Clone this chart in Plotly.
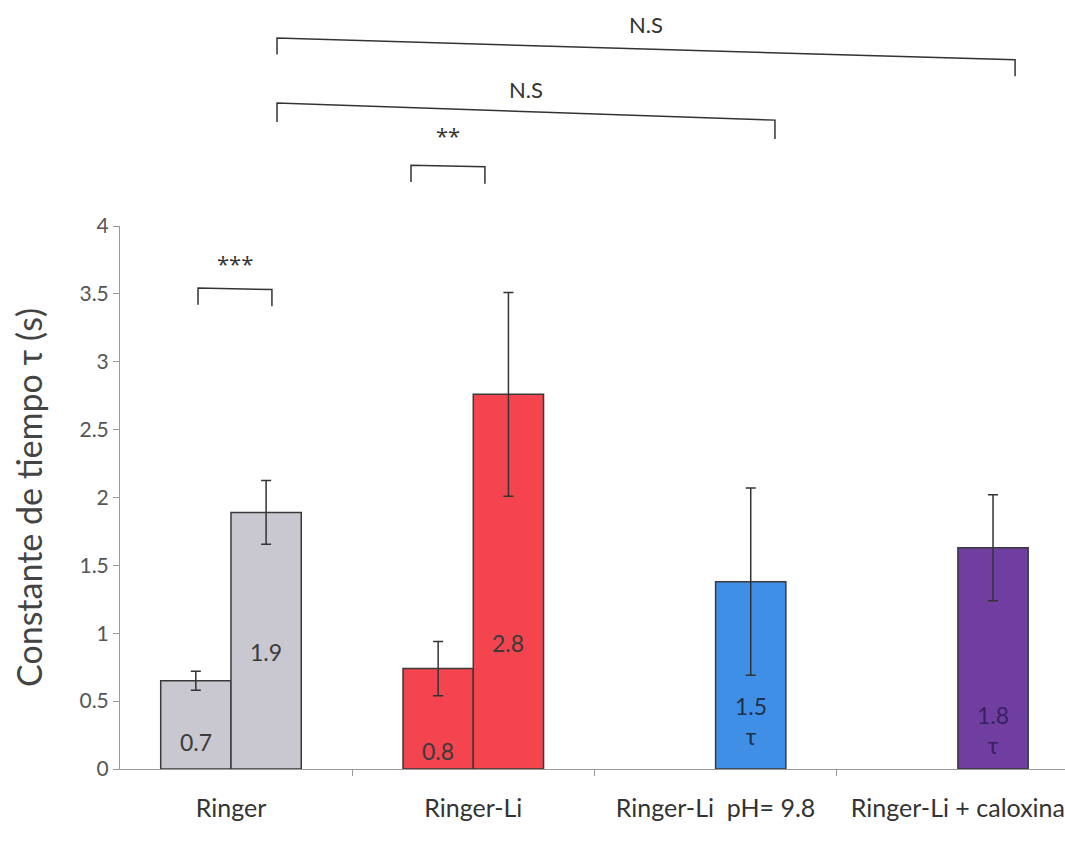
import plotly.graph_objects as go

# ---------------- data ----------------
categories = ["Ringer", "Ringer-Li", "Ringer-Li\u00a0 pH= 9.8", "Ringer-Li + caloxina"]

first_vals = [0.65, 0.74, None, None]
first_err = [0.07, 0.20, None, None]
first_labels = ["0.7", "0.8", "", ""]
first_colors = ["#C9C7CF", "#F3444F", "#C9C7CF", "#C9C7CF"]

second_vals = [1.89, 2.76, 1.38, 1.63]
second_err = [0.235, 0.75, 0.69, 0.39]
second_labels = ["1.9", "2.8", "1.5<br>τ", "1.8<br>τ"]
second_colors = ["#C9C7CF", "#F3444F", "#3E8FE5", "#6F3EA0"]
second_label_colors = ["#3a3a3a", "#3a3a3a", "#22304a", "#3a2060"]

y_ticks = [0, 0.5, 1, 1.5, 2, 2.5, 3, 3.5, 4]

# significance brackets: (x left, x right, label)
sig_pairs = [(-0.136, 0.169, "***"), (0.743, 1.048, "**"), (0.19, 2.245, "N.S"), (0.19, 3.236, "N.S")]

# ---------------- layout constants ----------------
BARGAP = 0.42
bar_w = (1 - BARGAP) / 2
off = bar_w / 2
FONT = "Lato, 'Open Sans', sans-serif"
STAR_FONT = "'Open Sans', sans-serif"

fig = go.Figure()
fig.add_trace(go.Bar(
    x=categories, y=first_vals, marker=dict(color=first_colors, line=dict(color="#3a3a3a", width=1.5)),
    error_y=dict(type="data", array=first_err, visible=True, color="#333333", thickness=1.5, width=5),
    showlegend=False, hoverinfo="y"))
fig.add_trace(go.Bar(
    x=categories, y=second_vals, marker=dict(color=second_colors, line=dict(color="#3a3a3a", width=1.5)),
    error_y=dict(type="data", array=second_err, visible=True, color="#333333", thickness=1.5, width=5),
    showlegend=False, hoverinfo="y"))

# value labels inside bars (positions in axis units)
first_label_y = [0.20, 0.135, None, None]
second_label_y = [0.86, 0.93, 0.35, 0.29]
annotations = []
for i, (lab, ly) in enumerate(zip(first_labels, first_label_y)):
    if lab:
        annotations.append(dict(x=i - off, y=ly, xref="x", yref="y", text=lab, showarrow=False,
                                yanchor="middle", font=dict(size=23, color="#3a3a3a", family=FONT)))
for i, (lab, ly) in enumerate(zip(second_labels, second_label_y)):
    annotations.append(dict(x=i + off, y=ly, xref="x", yref="y", text=lab, showarrow=False,
                            yanchor="middle", font=dict(size=23, color=second_label_colors[i], family=FONT)))

# brackets (paper y coords: left-top, right-top, drop, label centre y)
bracket_geom = [(0.886, 0.883, 0.031, 0.932), (1.112, 1.109, 0.031, 1.168),
                (1.2265, 1.195, 0.035, 1.252), (1.346, 1.306, 0.030, 1.372)]
shapes = []
for (x0, x1, lab), (yl, yr, d, ty) in zip(sig_pairs, bracket_geom):
    shapes.append(dict(type="path", xref="x", yref="paper",
                       path=f"M {x0},{yl - d} L {x0},{yl} L {x1},{yr} L {x1},{yr - d}",
                       line=dict(color="#333333", width=1.5)))
    is_star = lab.startswith("*")
    annotations.append(dict(x=(x0 + x1) / 2, y=ty, xref="x", yref="paper", text=lab, showarrow=False,
                            yanchor="middle",
                            font=dict(size=22, color="#333333", family=STAR_FONT if is_star else FONT)))

fig.update_layout(
    width=1065, height=843,
    margin=dict(l=120, r=0, t=226, b=74),
    paper_bgcolor="white", plot_bgcolor="white",
    barmode="group", bargap=BARGAP, bargroupgap=0,
    font=dict(family=FONT, color="#444444"),
    shapes=shapes, annotations=annotations,
    xaxis=dict(type="category", range=[-0.458, 3.442], showline=True, linecolor="#9a9a9a", linewidth=1,
               ticks="outside", tickson="boundaries", ticklen=6, tickcolor="#9a9a9a",
               tickfont=dict(size=25, color="#333333", family=FONT), ticklabelstandoff=17,
               showgrid=False, zeroline=False),
    yaxis=dict(range=[0, 4], tickvals=y_ticks, ticktext=[f"{v:g}" for v in y_ticks],
               showline=True, linecolor="#9a9a9a", linewidth=1, ticks="outside", ticklen=6,
               tickcolor="#9a9a9a", tickfont=dict(size=21, color="#555555", family=FONT),
               showgrid=False, zeroline=False,
               title=dict(text="Constante de tiempo τ (s)", font=dict(size=34, color="#444444", family=FONT),
                          standoff=26)),
)

fig.write_html("out.html")
